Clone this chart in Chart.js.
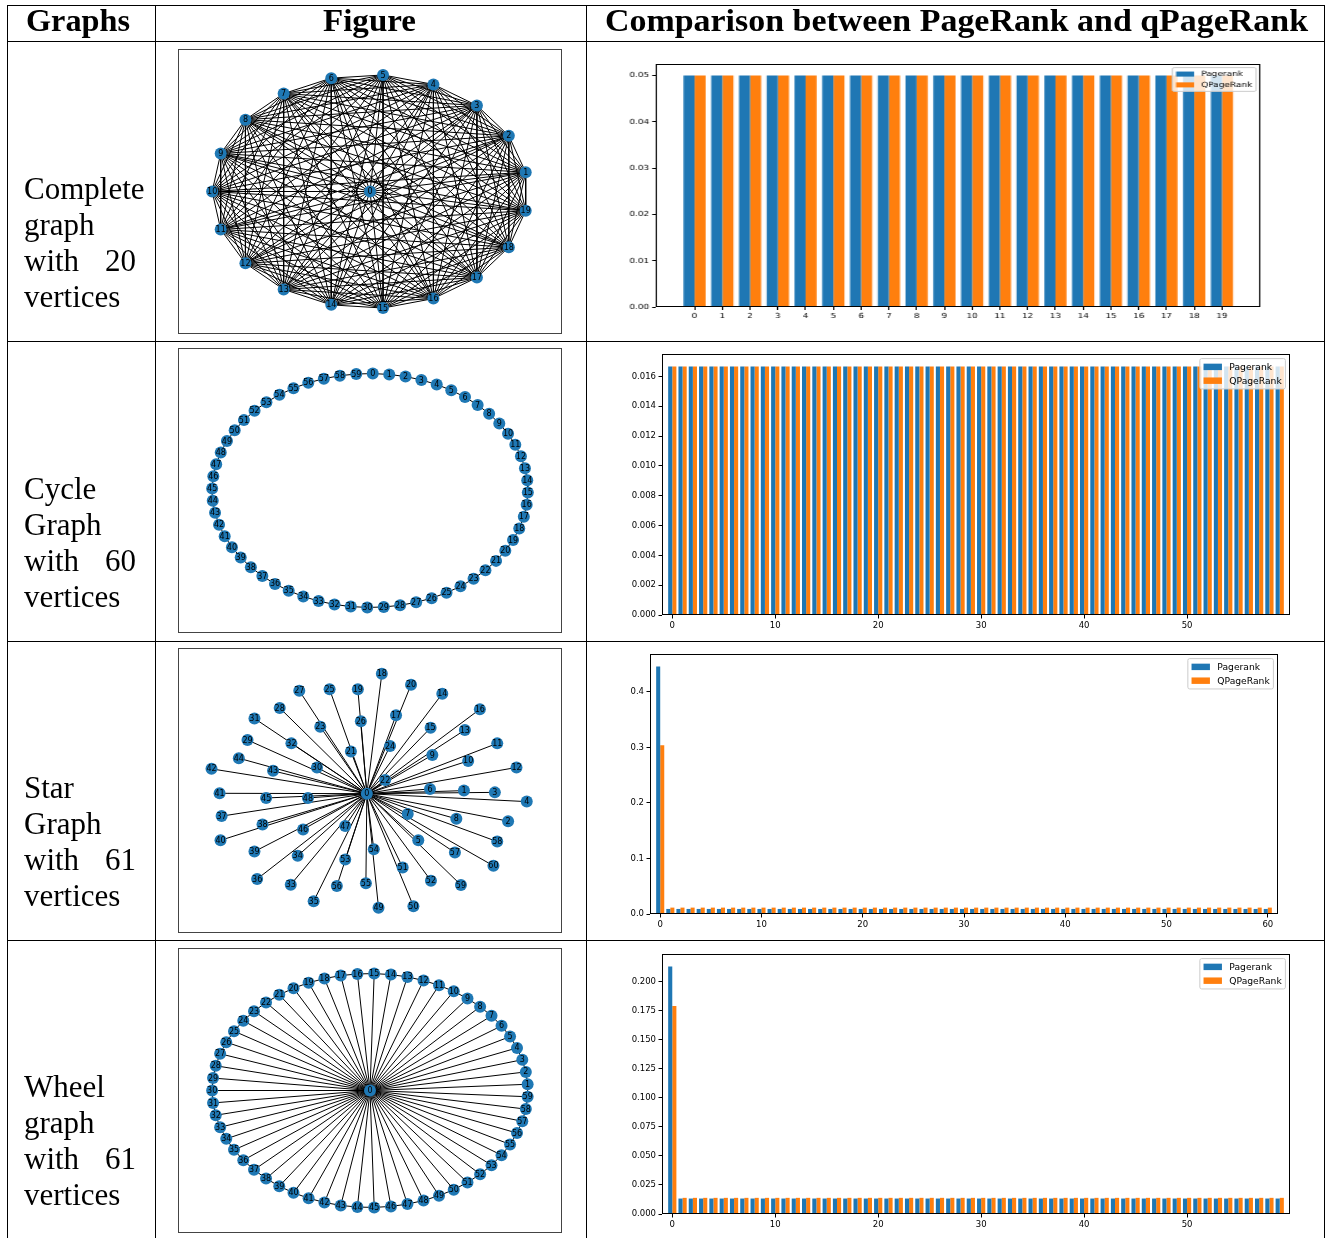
<!DOCTYPE html>
<html>
<head>
<meta charset="utf-8">
<title>PageRank vs qPageRank</title>
<script src="https://cdn.jsdelivr.net/npm/chart.js@4.4.1/dist/chart.umd.min.js"></script>
<style>
  html, body { margin: 0; padding: 0; background: #fff; }
  body { width: 1325px; height: 1238px; position: relative; overflow: hidden; }
  canvas { position: absolute; z-index: 1; }
  .figbox { position: absolute; border: 1px solid #444; box-sizing: border-box; z-index: 3; }
  #table { position: absolute; left: 0; top: 0; z-index: 5; pointer-events: none; }
</style>
</head>
<body>

<canvas id="netComplete"></canvas>
<canvas id="netCycle"></canvas>
<canvas id="netStar"></canvas>
<canvas id="netWheel"></canvas>
<div class="figbox" style="left:178px;top:49px;width:384px;height:285px"></div>
<div class="figbox" style="left:178px;top:348px;width:384px;height:285px"></div>
<div class="figbox" style="left:178px;top:648px;width:384px;height:285px"></div>
<div class="figbox" style="left:178px;top:948px;width:384px;height:285px"></div>

<canvas id="barComplete"></canvas>
<canvas id="barCycle"></canvas>
<canvas id="barStar"></canvas>
<canvas id="barWheel"></canvas>

<svg id="table" width="1325" height="1238" xmlns="http://www.w3.org/2000/svg">
  <g fill="#000" shape-rendering="crispEdges">
    <rect x="7" y="5" width="1318" height="1"/>
    <rect x="7" y="41" width="1318" height="1"/>
    <rect x="7" y="341" width="1318" height="1"/>
    <rect x="7" y="641" width="1318" height="1"/>
    <rect x="7" y="940" width="1318" height="1"/>
    <rect x="7" y="5" width="1" height="1233"/>
    <rect x="155" y="5" width="1" height="1233"/>
    <rect x="586" y="5" width="1" height="1233"/>
    <rect x="1324" y="5" width="1" height="1233"/>
  </g>
  <g font-family="Liberation Serif, serif" font-weight="bold" font-size="31" fill="#000">
    <text x="26" y="31" textLength="104" lengthAdjust="spacingAndGlyphs">Graphs</text>
    <text x="323" y="31" textLength="93" lengthAdjust="spacingAndGlyphs">Figure</text>
    <text x="605" y="31" textLength="703" lengthAdjust="spacingAndGlyphs">Comparison between PageRank and qPageRank</text>
  </g>
  <g font-family="Liberation Serif, serif" font-size="31" fill="#000">
    <text x="24" y="199">Complete</text>
    <text x="24" y="235">graph</text>
    <text x="24" y="271">with</text>
    <text x="136" y="271" text-anchor="end">20</text>
    <text x="24" y="307">vertices</text>

    <text x="24" y="499">Cycle</text>
    <text x="24" y="535">Graph</text>
    <text x="24" y="571">with</text>
    <text x="136" y="571" text-anchor="end">60</text>
    <text x="24" y="607">vertices</text>

    <text x="24" y="798">Star</text>
    <text x="24" y="834">Graph</text>
    <text x="24" y="870">with</text>
    <text x="136" y="870" text-anchor="end">61</text>
    <text x="24" y="906">vertices</text>

    <text x="24" y="1097">Wheel</text>
    <text x="24" y="1133">graph</text>
    <text x="24" y="1169">with</text>
    <text x="136" y="1169" text-anchor="end">61</text>
    <text x="24" y="1205">vertices</text>
  </g>
</svg>

<script>
// ---------------- PageRank values per vertex ----------------
const seriesNames = ['Pagerank', 'QPageRank'];

const completePagerank = [
  0.05, 0.05, 0.05, 0.05, 0.05, 0.05, 0.05, 0.05, 0.05, 0.05,
  0.05, 0.05, 0.05, 0.05, 0.05, 0.05, 0.05, 0.05, 0.05, 0.05
];
const completeQPagerank = [
  0.05, 0.05, 0.05, 0.05, 0.05, 0.05, 0.05, 0.05, 0.05, 0.05,
  0.05, 0.05, 0.05, 0.05, 0.05, 0.05, 0.05, 0.05, 0.05, 0.05
];

const cyclePagerank = [
  0.01667, 0.01667, 0.01667, 0.01667, 0.01667, 0.01667, 0.01667, 0.01667, 0.01667, 0.01667,
  0.01667, 0.01667, 0.01667, 0.01667, 0.01667, 0.01667, 0.01667, 0.01667, 0.01667, 0.01667,
  0.01667, 0.01667, 0.01667, 0.01667, 0.01667, 0.01667, 0.01667, 0.01667, 0.01667, 0.01667,
  0.01667, 0.01667, 0.01667, 0.01667, 0.01667, 0.01667, 0.01667, 0.01667, 0.01667, 0.01667,
  0.01667, 0.01667, 0.01667, 0.01667, 0.01667, 0.01667, 0.01667, 0.01667, 0.01667, 0.01667,
  0.01667, 0.01667, 0.01667, 0.01667, 0.01667, 0.01667, 0.01667, 0.01667, 0.01667, 0.01667
];
const cycleQPagerank = [
  0.01667, 0.01667, 0.01667, 0.01667, 0.01667, 0.01667, 0.01667, 0.01667, 0.01667, 0.01667,
  0.01667, 0.01667, 0.01667, 0.01667, 0.01667, 0.01667, 0.01667, 0.01667, 0.01667, 0.01667,
  0.01667, 0.01667, 0.01667, 0.01667, 0.01667, 0.01667, 0.01667, 0.01667, 0.01667, 0.01667,
  0.01667, 0.01667, 0.01667, 0.01667, 0.01667, 0.01667, 0.01667, 0.01667, 0.01667, 0.01667,
  0.01667, 0.01667, 0.01667, 0.01667, 0.01667, 0.01667, 0.01667, 0.01667, 0.01667, 0.01667,
  0.01667, 0.01667, 0.01667, 0.01667, 0.01667, 0.01667, 0.01667, 0.01667, 0.01667, 0.01667
];

const starPagerank = [
  0.446,
  0.0091, 0.0091, 0.0091, 0.0091, 0.0091, 0.0091, 0.0091, 0.0091, 0.0091, 0.0091,
  0.0091, 0.0091, 0.0091, 0.0091, 0.0091, 0.0091, 0.0091, 0.0091, 0.0091, 0.0091,
  0.0091, 0.0091, 0.0091, 0.0091, 0.0091, 0.0091, 0.0091, 0.0091, 0.0091, 0.0091,
  0.0091, 0.0091, 0.0091, 0.0091, 0.0091, 0.0091, 0.0091, 0.0091, 0.0091, 0.0091,
  0.0091, 0.0091, 0.0091, 0.0091, 0.0091, 0.0091, 0.0091, 0.0091, 0.0091, 0.0091,
  0.0091, 0.0091, 0.0091, 0.0091, 0.0091, 0.0091, 0.0091, 0.0091, 0.0091, 0.0091
];
const starQPagerank = [
  0.304,
  0.0115, 0.0115, 0.0115, 0.0115, 0.0115, 0.0115, 0.0115, 0.0115, 0.0115, 0.0115,
  0.0115, 0.0115, 0.0115, 0.0115, 0.0115, 0.0115, 0.0115, 0.0115, 0.0115, 0.0115,
  0.0115, 0.0115, 0.0115, 0.0115, 0.0115, 0.0115, 0.0115, 0.0115, 0.0115, 0.0115,
  0.0115, 0.0115, 0.0115, 0.0115, 0.0115, 0.0115, 0.0115, 0.0115, 0.0115, 0.0115,
  0.0115, 0.0115, 0.0115, 0.0115, 0.0115, 0.0115, 0.0115, 0.0115, 0.0115, 0.0115,
  0.0115, 0.0115, 0.0115, 0.0115, 0.0115, 0.0115, 0.0115, 0.0115, 0.0115, 0.0115
];

const wheelPagerank = [
  0.213,
  0.0133, 0.0133, 0.0133, 0.0133, 0.0133, 0.0133, 0.0133, 0.0133, 0.0133, 0.0133,
  0.0133, 0.0133, 0.0133, 0.0133, 0.0133, 0.0133, 0.0133, 0.0133, 0.0133, 0.0133,
  0.0133, 0.0133, 0.0133, 0.0133, 0.0133, 0.0133, 0.0133, 0.0133, 0.0133, 0.0133,
  0.0133, 0.0133, 0.0133, 0.0133, 0.0133, 0.0133, 0.0133, 0.0133, 0.0133, 0.0133,
  0.0133, 0.0133, 0.0133, 0.0133, 0.0133, 0.0133, 0.0133, 0.0133, 0.0133, 0.0133,
  0.0133, 0.0133, 0.0133, 0.0133, 0.0133, 0.0133, 0.0133, 0.0133, 0.0133
];
const wheelQPagerank = [
  0.179,
  0.0139, 0.0139, 0.0139, 0.0139, 0.0139, 0.0139, 0.0139, 0.0139, 0.0139, 0.0139,
  0.0139, 0.0139, 0.0139, 0.0139, 0.0139, 0.0139, 0.0139, 0.0139, 0.0139, 0.0139,
  0.0139, 0.0139, 0.0139, 0.0139, 0.0139, 0.0139, 0.0139, 0.0139, 0.0139, 0.0139,
  0.0139, 0.0139, 0.0139, 0.0139, 0.0139, 0.0139, 0.0139, 0.0139, 0.0139, 0.0139,
  0.0139, 0.0139, 0.0139, 0.0139, 0.0139, 0.0139, 0.0139, 0.0139, 0.0139, 0.0139,
  0.0139, 0.0139, 0.0139, 0.0139, 0.0139, 0.0139, 0.0139, 0.0139, 0.0139
];

// ---------------- tick values ----------------
const completeXTicks = [0, 1, 2, 3, 4, 5, 6, 7, 8, 9, 10, 11, 12, 13, 14, 15, 16, 17, 18, 19];
const completeYTicks = [0, 0.01, 0.02, 0.03, 0.04, 0.05];
const cycleXTicks = [0, 10, 20, 30, 40, 50];
const cycleYTicks = [0, 0.002, 0.004, 0.006, 0.008, 0.010, 0.012, 0.014, 0.016];
const starXTicks = [0, 10, 20, 30, 40, 50, 60];
const starYTicks = [0, 0.1, 0.2, 0.3, 0.4];
const wheelXTicks = [0, 10, 20, 30, 40, 50];
const wheelYTicks = [0, 0.025, 0.05, 0.075, 0.1, 0.125, 0.15, 0.175, 0.2];

// ---------------- star graph drawing positions (spring layout) ----------------
const starX = [
  -0.020, 0.595, 0.875, 0.791, 0.993, 0.306, 0.380, 0.239, 0.547, 0.395,
   0.622, 0.806, 0.928, 0.601, 0.458, 0.384, 0.696, 0.165, 0.075, -0.077,
   0.260, -0.121, 0.096, -0.315, 0.127, -0.256, -0.058, -0.448, -0.572, -0.776,
  -0.336, -0.732, -0.498, -0.502, -0.458, -0.357, -0.715, -0.940, -0.681, -0.732,
  -0.947, -0.953, -1.004, -0.614, -0.831, -0.658, -0.424, -0.157, -0.393, 0.054,
   0.275, 0.207, 0.386, -0.157, 0.024, -0.026, -0.210, 0.538, 0.806, 0.576,
   0.782
];
const starY = [
  -0.027, -0.001, -0.262, -0.016, -0.095, -0.426, 0.013, -0.200, -0.242, 0.304,
   0.253, 0.403, 0.197, 0.517, 0.828, 0.536, 0.695, 0.644, 0.998, 0.865,
   0.904, 0.333, 0.089, 0.545, 0.381, 0.865, 0.593, 0.853, 0.706, 0.432,
   0.197, 0.616, 0.403, -0.805, -0.559, -0.947, -0.757, -0.219, -0.290, -0.522,
  -0.426, -0.024, 0.185, 0.168, 0.276, -0.064, -0.333, -0.304, -0.064, -1.003,
  -0.989, -0.658, -0.771, -0.590, -0.502, -0.794, -0.817, -0.531, -0.437, -0.808,
  -0.644
];

const BLUE = '#1f77b4';
const ORANGE = '#ff7f0e';
const NODE_BLUE = '#1f78b4';
const SANS = '"DejaVu Sans", sans-serif';

// ---------------- graph layouts and edge lists ----------------
// evenly spread vertices on the unit circle (networkx shell / circular layout)
function ringPositions(count, firstDeg, direction) {
  const out = [];
  for (let k = 0; k < count; k++) {
    const a = (firstDeg + direction * k * 360 / count) * Math.PI / 180;
    out.push([Math.cos(a), Math.sin(a)]);
  }
  return out;
}

const completePos = [[0, 0]].concat(ringPositions(19, 180 / 19, 1));
const completeEdges = [];
for (let i = 0; i < 20; i++) for (let j = i + 1; j < 20; j++) completeEdges.push([i, j]);

const cyclePos = ringPositions(60, 89, -1);
const cycleEdges = [];
for (let i = 0; i < 60; i++) cycleEdges.push([i, (i + 1) % 60]);

const starPos = starX.map((x, i) => [x, starY[i]]);
const starEdges = [];
for (let i = 1; i < 61; i++) starEdges.push([0, i]);

const wheelPos = [[0, 0]].concat(ringPositions(59, 180 / 59, 1));
const wheelEdges = [];
for (let i = 1; i < 60; i++) wheelEdges.push([0, i]);
for (let i = 1; i < 60; i++) wheelEdges.push([i, i === 59 ? 1 : i + 1]);

// ---------------- plugins ----------------
// vertex numbers written on the node markers
const nodeLabels = {
  id: 'nodeLabels',
  afterDatasetsDraw(chart) {
    const ds = chart.data.datasets[1];
    const meta = chart.getDatasetMeta(1);
    const ctx = chart.ctx;
    ctx.save();
    ctx.font = '8px ' + SANS;
    ctx.fillStyle = '#000';
    ctx.textAlign = 'center';
    ctx.textBaseline = 'middle';
    meta.data.forEach((pt, i) => ctx.fillText(String(ds.nodeIds[i]), pt.x, pt.y + 0.5));
    ctx.restore();
  }
};

// axes frame drawn on all four sides
const axesFrame = {
  id: 'axesFrame',
  afterDraw(chart) {
    const { ctx, chartArea: a } = chart;
    ctx.save();
    ctx.strokeStyle = '#000';
    ctx.lineWidth = 1;
    const l = Math.round(a.left) + 0.5, t = Math.round(a.top) + 0.5;
    const r = Math.round(a.right) - 0.5, b = Math.round(a.bottom) - 0.5;
    ctx.strokeRect(l, t, r - l, b - t);
    ctx.restore();
  }
};

// boxed legend in the upper right corner of the axes
const cornerLegend = {
  id: 'cornerLegend',
  afterDraw(chart, args, opts) {
    const { ctx, chartArea: a } = chart;
    const f = opts.fontSize;
    ctx.save();
    ctx.font = f + 'px ' + SANS;
    const items = chart.data.datasets.map(d => ({ text: d.label, color: d.backgroundColor }));
    const textW = Math.max(...items.map(it => ctx.measureText(it.text).width));
    const pad = 0.4 * f, handleW = 2 * f, handleH = 0.7 * f, gap = 0.8 * f, spacing = 0.5 * f;
    const rowH = f * 1.0;
    const w = pad * 2 + handleW + gap + textW;
    const h = pad * 2 + items.length * rowH + (items.length - 1) * spacing;
    const x = a.right - 0.5 * f - w;
    const y = a.top + 0.5 * f;
    const rad = 0.2 * f;
    ctx.beginPath();
    ctx.moveTo(x + rad, y);
    ctx.arcTo(x + w, y, x + w, y + h, rad);
    ctx.arcTo(x + w, y + h, x, y + h, rad);
    ctx.arcTo(x, y + h, x, y, rad);
    ctx.arcTo(x, y, x + w, y, rad);
    ctx.closePath();
    ctx.fillStyle = 'rgba(255,255,255,0.8)';
    ctx.fill();
    ctx.strokeStyle = '#cccccc';
    ctx.lineWidth = 1;
    ctx.stroke();
    ctx.textBaseline = 'middle';
    ctx.textAlign = 'left';
    items.forEach((it, i) => {
      const cy = y + pad + i * (rowH + spacing) + rowH / 2;
      ctx.fillStyle = it.color;
      ctx.fillRect(x + pad, cy - handleH / 2, handleW, handleH);
      ctx.fillStyle = '#000';
      ctx.fillText(it.text, x + pad + handleW + gap, cy + 0.5);
    });
    ctx.restore();
  }
};

// ---------------- graph drawings ----------------
function drawGraph(canvasId, rect, positions, edges) {
  const canvas = document.getElementById(canvasId);
  canvas.width = rect.w;
  canvas.height = rect.h;
  canvas.style.left = rect.x + 'px';
  canvas.style.top = rect.y + 'px';
  canvas.style.width = rect.w + 'px';
  canvas.style.height = rect.h + 'px';

  const nodes = positions.map(p => ({ x: p[0], y: p[1] }));
  const segs = [];
  edges.forEach(([a, b]) => {
    segs.push({ x: nodes[a].x, y: nodes[a].y }, { x: nodes[b].x, y: nodes[b].y }, { x: null, y: null });
  });
  const ids = positions.map((p, i) => i);

  return new Chart(canvas, {
    type: 'scatter',
    data: {
      datasets: [
        { data: segs, showLine: true, spanGaps: false, borderColor: '#000', borderWidth: 1,
          pointRadius: 0, pointHitRadius: 0, tension: 0, order: 1 },
        { data: nodes, nodeIds: ids, pointRadius: 6, pointBackgroundColor: NODE_BLUE,
          pointBorderWidth: 0, showLine: false, order: 0 }
      ]
    },
    options: {
      responsive: false, animation: false, events: [], devicePixelRatio: 1,
      layout: { padding: 0, autoPadding: false },
      plugins: { legend: { display: false }, tooltip: { enabled: false } },
      scales: {
        x: { type: 'linear', min: -1.21, max: 1.21, display: false },
        y: { type: 'linear', min: -1.21, max: 1.21, display: false }
      }
    },
    plugins: [nodeLabels]
  });
}

const boxW = 382, boxH = 283;
drawGraph('netComplete', { x: 179, y: 50, w: boxW, h: boxH }, completePos, completeEdges);
drawGraph('netCycle', { x: 179, y: 349, w: boxW, h: boxH }, cyclePos, cycleEdges);
drawGraph('netStar', { x: 179, y: 649, w: boxW, h: boxH }, starPos, starEdges);
drawGraph('netWheel', { x: 179, y: 949, w: boxW, h: boxH }, wheelPos, wheelEdges);

// ---------------- bar charts ----------------
function drawBars(canvasId, s) {
  const canvas = document.getElementById(canvasId);
  const cw = Math.round(s.cell.w / s.sx);
  canvas.width = cw;
  canvas.height = s.cell.h;
  canvas.style.left = s.cell.x + 'px';
  canvas.style.top = s.cell.y + 'px';
  canvas.style.width = s.cell.w + 'px';
  canvas.style.height = s.cell.h + 'px';

  const yW = 44, xH = 20;
  const padding = {
    left: (s.box.l - s.cell.x) / s.sx - yW,
    right: cw - (s.box.r + 1 - s.cell.x) / s.sx,
    top: s.box.t - s.cell.y,
    bottom: s.cell.y + s.cell.h - (s.box.b + 1) - xH
  };

  const n = s.first.length;
  const span = (n - 1) + 0.8;
  const xMin = -0.4 - s.xMargin * span;
  const xMax = (n - 1) + 0.4 + s.xMargin * span;
  const yMax = 1.05 * Math.max(...s.first, ...s.second);

  const grid = { display: true, drawOnChartArea: false, drawTicks: true, offset: false,
                 tickLength: s.tickLen, color: '#000', lineWidth: 1 };

  return new Chart(canvas, {
    type: 'bar',
    data: {
      datasets: [
        { label: seriesNames[0], data: s.first.map((v, i) => ({ x: i, y: v })),
          backgroundColor: BLUE, borderWidth: 0, categoryPercentage: 0.8, barPercentage: 1.0 },
        { label: seriesNames[1], data: s.second.map((v, i) => ({ x: i, y: v })),
          backgroundColor: ORANGE, borderWidth: 0, categoryPercentage: 0.8, barPercentage: 1.0 }
      ]
    },
    options: {
      responsive: false, animation: false, events: [], devicePixelRatio: 1,
      layout: { padding, autoPadding: false },
      plugins: {
        legend: { display: false },
        tooltip: { enabled: false },
        cornerLegend: { fontSize: s.legendFont }
      },
      scales: {
        x: {
          type: 'linear', min: xMin, max: xMax, offset: false, bounds: 'data',
          afterBuildTicks: ax => { ax.ticks = s.xTicks.map(v => ({ value: v })); },
          afterFit: ax => { ax.height = xH; },
          grid, border: { display: false },
          ticks: { font: { family: SANS, size: s.tickFont }, color: '#000', padding: 2,
                   maxRotation: 0, minRotation: 0, autoSkip: false, callback: v => String(v) }
        },
        y: {
          type: 'linear', min: 0, max: yMax, bounds: 'data',
          afterBuildTicks: ax => { ax.ticks = s.yTicks.map(v => ({ value: v })); },
          afterFit: ax => { ax.width = yW; },
          grid, border: { display: false },
          ticks: { font: { family: SANS, size: s.tickFont }, color: '#000', padding: 2.5,
                   callback: v => Number(v).toFixed(s.yDecimals) }
        }
      }
    },
    plugins: [axesFrame, cornerLegend]
  });
}

drawBars('barComplete', {
  first: completePagerank, second: completeQPagerank,
  xTicks: completeXTicks, yTicks: completeYTicks, yDecimals: 2,
  cell: { x: 587, y: 42, w: 737, h: 299 }, box: { l: 656, r: 1260, t: 64, b: 306 },
  sx: 1.25, tickFont: 7, legendFont: 7.2, tickLen: 3, xMargin: 0.05
});
drawBars('barCycle', {
  first: cyclePagerank, second: cycleQPagerank,
  xTicks: cycleXTicks, yTicks: cycleYTicks, yDecimals: 3,
  cell: { x: 587, y: 342, w: 737, h: 299 }, box: { l: 662, r: 1289, t: 354, b: 614 },
  sx: 1, tickFont: 8.5, legendFont: 9.2, tickLen: 3.5, xMargin: 0.01
});
drawBars('barStar', {
  first: starPagerank, second: starQPagerank,
  xTicks: starXTicks, yTicks: starYTicks, yDecimals: 1,
  cell: { x: 587, y: 642, w: 737, h: 298 }, box: { l: 650, r: 1277, t: 654, b: 913 },
  sx: 1, tickFont: 8.5, legendFont: 9.2, tickLen: 3.5, xMargin: 0.01
});
drawBars('barWheel', {
  first: wheelPagerank, second: wheelQPagerank,
  xTicks: wheelXTicks, yTicks: wheelYTicks, yDecimals: 3,
  cell: { x: 587, y: 941, w: 737, h: 297 }, box: { l: 662, r: 1289, t: 954, b: 1213 },
  sx: 1, tickFont: 8.5, legendFont: 9.2, tickLen: 3.5, xMargin: 0.01
});
</script>
</body>
</html>
